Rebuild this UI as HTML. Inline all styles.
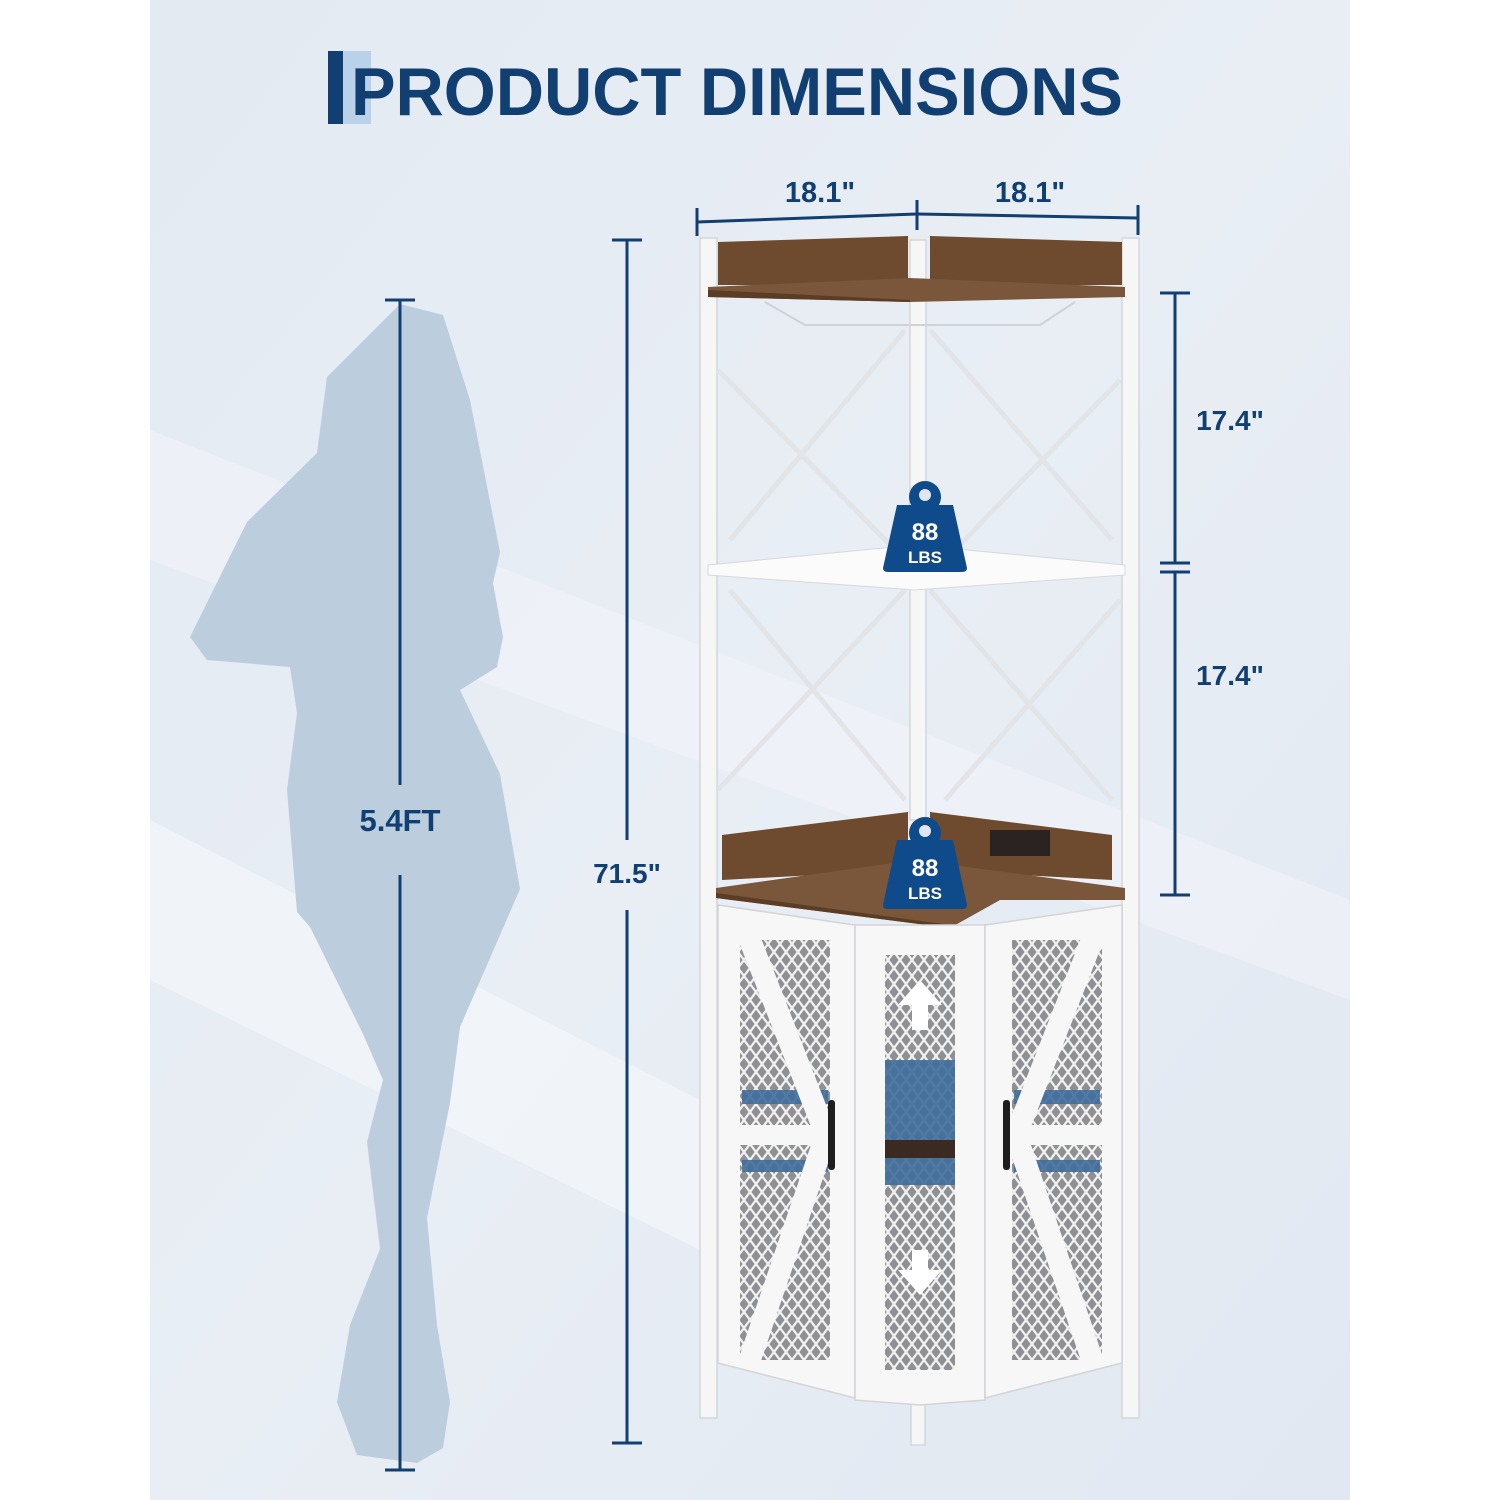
<!DOCTYPE html>
<html><head><meta charset="utf-8"><style>
html,body{margin:0;padding:0;background:#fff}
svg{display:block}
text{font-family:"Liberation Sans",sans-serif;font-weight:bold;fill:#123f72}
</style></head><body>
<svg width="1500" height="1500" viewBox="0 0 1500 1500" xmlns="http://www.w3.org/2000/svg">
<defs>
<linearGradient id="bg" x1="0" y1="0" x2="1" y2="1">
<stop offset="0" stop-color="#e3eaf2"/><stop offset="0.5" stop-color="#e9eef5"/><stop offset="1" stop-color="#e1e8f1"/>
</linearGradient>
<pattern id="mesh" width="12" height="16" patternUnits="userSpaceOnUse">
<rect width="12" height="16" fill="#8f9093"/>
<path d="M0 0L12 16M12 0L0 16" stroke="#f2f2f2" stroke-width="2.2"/>
</pattern>
</defs>
<rect x="150" y="0" width="1200" height="1500" fill="url(#bg)"/>
<polygon points="150,430 1350,900 1350,1000 150,560" fill="#f1f4f9" opacity="0.6"/>
<polygon points="150,820 700,1100 700,1250 150,980" fill="#f3f6fa" opacity="0.7"/>

<!-- title -->
<rect x="328" y="51" width="15" height="73" fill="#123f72"/>
<rect x="343" y="51" width="28" height="73" fill="#b9d2ea"/>
<text x="351" y="115" font-size="68" textLength="772" lengthAdjust="spacingAndGlyphs">PRODUCT DIMENSIONS</text>

<!-- silhouette -->
<path d="M400,304 L443,315 L470,400 L500,552 L493,583 L503,637 L497,667 L460,690 L500,774 L520,889 L500,935 L460,1027 L450,1103 L427,1218 L437,1325 L450,1402 L443,1448 L417,1463 L357,1455 L337,1402 L350,1325 L380,1249 L367,1142 L383,1080 L363,1034 L310,927 L297,912 L287,790 L297,713 L290,667 L207,660 L190,637 L247,522 L317,453 L327,377 Z" fill="#bccddd"/>
<g stroke="#123f72" stroke-width="3">
<line x1="400" y1="300" x2="400" y2="785"/><line x1="400" y1="875" x2="400" y2="1470"/>
<line x1="385" y1="300" x2="415" y2="300"/><line x1="385" y1="1470" x2="415" y2="1470"/>
<line x1="627" y1="240" x2="627" y2="840"/><line x1="627" y1="910" x2="627" y2="1443"/>
<line x1="612" y1="240" x2="642" y2="240"/><line x1="612" y1="1443" x2="642" y2="1443"/>
<line x1="697" y1="222" x2="917" y2="214"/><line x1="917" y1="214" x2="1138" y2="218"/>
<line x1="697" y1="208" x2="697" y2="236"/><line x1="917" y1="200" x2="917" y2="230"/><line x1="1138" y1="205" x2="1138" y2="235"/>
<line x1="1175" y1="293" x2="1175" y2="563"/><line x1="1175" y1="572" x2="1175" y2="895"/>
<line x1="1160" y1="293" x2="1190" y2="293"/><line x1="1160" y1="563" x2="1190" y2="563"/>
<line x1="1160" y1="572" x2="1190" y2="572"/><line x1="1160" y1="895" x2="1190" y2="895"/>
</g>
<text x="400" y="831" font-size="31" text-anchor="middle">5.4FT</text>
<text x="627" y="883" font-size="28" text-anchor="middle">71.5"</text>
<text x="820" y="202" font-size="29" text-anchor="middle">18.1"</text>
<text x="1030" y="202" font-size="29" text-anchor="middle">18.1"</text>
<text x="1230" y="430" font-size="28" text-anchor="middle">17.4"</text>
<text x="1230" y="685" font-size="28" text-anchor="middle">17.4"</text>

<!-- cabinet frame -->
<g fill="#f6f6f6" stroke="#d4d6da" stroke-width="1.5">
<rect x="700" y="238" width="17" height="1180"/>
<rect x="1122" y="238" width="17" height="1180"/>
<rect x="910" y="240" width="16" height="580"/>
<rect x="911" y="1400" width="14" height="45"/>
</g>
<g stroke="#e2e4e8" stroke-width="5">
<line x1="718" y1="370" x2="905" y2="560"/><line x1="905" y1="330" x2="730" y2="540"/>
<line x1="930" y1="330" x2="1112" y2="540"/><line x1="1120" y1="380" x2="945" y2="560"/>
<line x1="718" y1="790" x2="905" y2="590"/><line x1="730" y1="590" x2="905" y2="800"/>
<line x1="930" y1="590" x2="1112" y2="800"/><line x1="1120" y1="600" x2="945" y2="800"/>
</g>
<!-- top shelf -->
<polygon points="718,242 908,236 908,285 718,285" fill="#6e4a2e"/>
<polygon points="930,236 1122,242 1122,285 930,285" fill="#6e4a2e"/>
<polygon points="708,287 910,278 1125,287 1125,297 910,302 708,297" fill="#7a563a"/>
<polygon points="708,297 910,302 910,300 708,290" fill="#5b3c24"/>
<path d="M765,302 L805,325 L1040,325 L1075,302" fill="none" stroke="#cfd2d8" stroke-width="2"/>
<!-- middle shelf -->
<polygon points="708,565 915,545 1125,565 1125,575 915,590 708,575" fill="#fbfbfc" stroke="#d6d9de"/>
<!-- countertop -->
<polygon points="722,835 908,812 908,870 722,880" fill="#6e4a2e"/>
<polygon points="930,812 1112,835 1112,880 930,870" fill="#6e4a2e"/>
<rect x="990" y="830" width="60" height="26" fill="#2a2321"/>
<polygon points="716,888 915,860 1125,888 1125,900 1000,900 950,928 716,898" fill="#7a563a"/>
<polygon points="716,898 950,928 950,925 716,893" fill="#5b3c24"/>
<!-- doors -->
<g fill="#f7f7f7" stroke="#d2d4d8" stroke-width="1.5">
<polygon points="718,905 855,925 855,1398 718,1363"/>
<polygon points="855,925 985,925 985,1400 920,1405 855,1400"/>
<polygon points="985,925 1122,905 1122,1363 985,1398"/>
</g>
<rect x="740" y="940" width="90" height="420" fill="url(#mesh)"/>
<rect x="885" y="955" width="70" height="415" fill="url(#mesh)"/>
<rect x="1012" y="940" width="90" height="420" fill="url(#mesh)"/>
<rect x="885" y="1060" width="70" height="125" fill="#3f6e9c" opacity="0.9"/>
<rect x="885" y="1140" width="70" height="18" fill="#3a2a22"/>
<rect x="742" y="1090" width="86" height="14" fill="#3f6e9c" opacity="0.9"/>
<rect x="1014" y="1090" width="86" height="14" fill="#3f6e9c" opacity="0.9"/>
<rect x="742" y="1160" width="86" height="12" fill="#3f6e9c" opacity="0.9"/>
<rect x="1014" y="1160" width="86" height="12" fill="#3f6e9c" opacity="0.9"/>
<g stroke="#f7f7f7" stroke-width="22" fill="none">
<polyline points="748,935 826,1135 748,1365"/>
<polyline points="1094,935 1016,1135 1094,1365"/>
</g>
<rect x="740" y="1125" width="85" height="20" fill="#f7f7f7"/>
<rect x="1017" y="1125" width="85" height="20" fill="#f7f7f7"/>
<path d="M898,1005 L920,980 L942,1005 L928,1005 L928,1030 L912,1030 L912,1005Z" fill="#fff"/>
<path d="M898,1270 L920,1295 L942,1270 L928,1270 L928,1250 L912,1250 L912,1270Z" fill="#fff"/>
<rect x="828" y="1100" width="7" height="70" rx="3" fill="#1e1e1e"/>
<rect x="1003" y="1100" width="7" height="70" rx="3" fill="#1e1e1e"/>

<!-- weight icons -->
<g fill="#0f4a8a">
<circle cx="925" cy="497" r="16"/>
<path d="M897,505 L953,505 L967,568 Q967,572 962,572 L888,572 Q883,572 883,568Z"/>
<circle cx="925" cy="833" r="16"/>
<path d="M897,840 L953,840 L967,905 Q967,909 962,909 L888,909 Q883,909 883,905Z"/>
</g>
<circle cx="925" cy="495" r="6" fill="#dfe6ef"/><circle cx="925" cy="831" r="6" fill="#dfe6ef"/>
<text x="925" y="540" font-size="24" text-anchor="middle" style="fill:#fff">88</text>
<text x="925" y="563" font-size="17" text-anchor="middle" style="fill:#fff">LBS</text>
<text x="925" y="876" font-size="24" text-anchor="middle" style="fill:#fff">88</text>
<text x="925" y="899" font-size="17" text-anchor="middle" style="fill:#fff">LBS</text>
</svg>
</body></html>
